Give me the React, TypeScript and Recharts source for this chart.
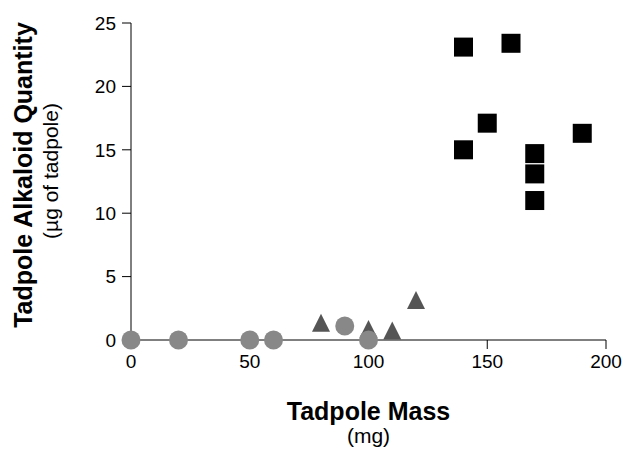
import { ScatterChart, Scatter, XAxis, YAxis, Label } from "recharts"

const circleMass = [0, 20, 50, 60, 100, 90]
const circleAlkaloid = [0, 0, 0, 0, 0, 1.1]

const triangleMass = [80, 100, 110, 120]
const triangleAlkaloid = [1.2, 0.7, 0.6, 3.0]

const squareMass = [140, 160, 150, 140, 190, 170, 170, 170]
const squareAlkaloid = [23.1, 23.4, 17.1, 15.0, 16.3, 14.7, 13.1, 11.0]

const xTicks = [0, 50, 100, 150, 200]
const yTicks = [0, 5, 10, 15, 20, 25]

const toPoints = (xs: number[], ys: number[]) => xs.map((x, i) => ({ x, y: ys[i] }))

const circles = toPoints(circleMass, circleAlkaloid)
const triangles = toPoints(triangleMass, triangleAlkaloid)
const squares = toPoints(squareMass, squareAlkaloid)

const font = "'Liberation Sans', Arial, sans-serif"

const Circle = (props: any) => <circle cx={props.cx} cy={props.cy} r={9.5} fill="#888888" />

const Square = (props: any) => (
  <rect x={props.cx - 9.5} y={props.cy - 9.5} width={19} height={19} fill="#000000" />
)

const Triangle = (props: any) => {
  const { cx, cy } = props
  return (
    <polygon
      points={`${cx},${cy - 11} ${cx - 9},${cy + 7} ${cx + 9},${cy + 7}`}
      fill="#555555"
    />
  )
}

const YTitle = () => (
  <g fontFamily={font} fill="#000">
    <text
      x={32}
      y={175}
      transform="rotate(-90, 32, 175)"
      textAnchor="middle"
      fontSize={25}
      fontWeight="bold"
    >
      Tadpole Alkaloid Quantity
    </text>
    <text
      x={58}
      y={171}
      transform="rotate(-90, 58, 171)"
      textAnchor="middle"
      fontSize={21}
    >
      (µg of tadpole)
    </text>
  </g>
)

const XTitle = (props: any) => {
  const vb = props.viewBox
  const cx = vb.x + vb.width / 2
  return (
    <g fontFamily={font} fill="#000">
      <text x={cx} y={420} textAnchor="middle" fontSize={25} fontWeight="bold">
        Tadpole Mass
      </text>
      <text x={cx} y={443} textAnchor="middle" fontSize={21}>
        (mg)
      </text>
    </g>
  )
}

export default function App() {
  return (
    <div style={{ position: "absolute", left: 0, top: 0, background: "#fff" }}>
      <ScatterChart
        width={626}
        height={451}
        margin={{ top: 23, right: 20, left: 0, bottom: 0 }}
      >
        <XAxis
          type="number"
          dataKey="x"
          domain={[0, 200]}
          ticks={xTicks}
          height={111}
          tickSize={9}
          tickMargin={6}
          stroke="#000"
          tick={{ fill: "#000", fontSize: 19, fontFamily: font }}
        >
          <Label content={<XTitle />} />
        </XAxis>
        <YAxis
          type="number"
          dataKey="y"
          domain={[0, 25]}
          ticks={yTicks}
          width={131}
          tickSize={9}
          tickMargin={6}
          stroke="#000"
          tick={{ fill: "#000", fontSize: 19, fontFamily: font }}
        >
          <Label content={<YTitle />} />
        </YAxis>
        <Scatter data={triangles} shape={<Triangle />} isAnimationActive={false} />
        <Scatter data={circles} shape={<Circle />} isAnimationActive={false} />
        <Scatter data={squares} shape={<Square />} isAnimationActive={false} />
      </ScatterChart>
    </div>
  )
}
